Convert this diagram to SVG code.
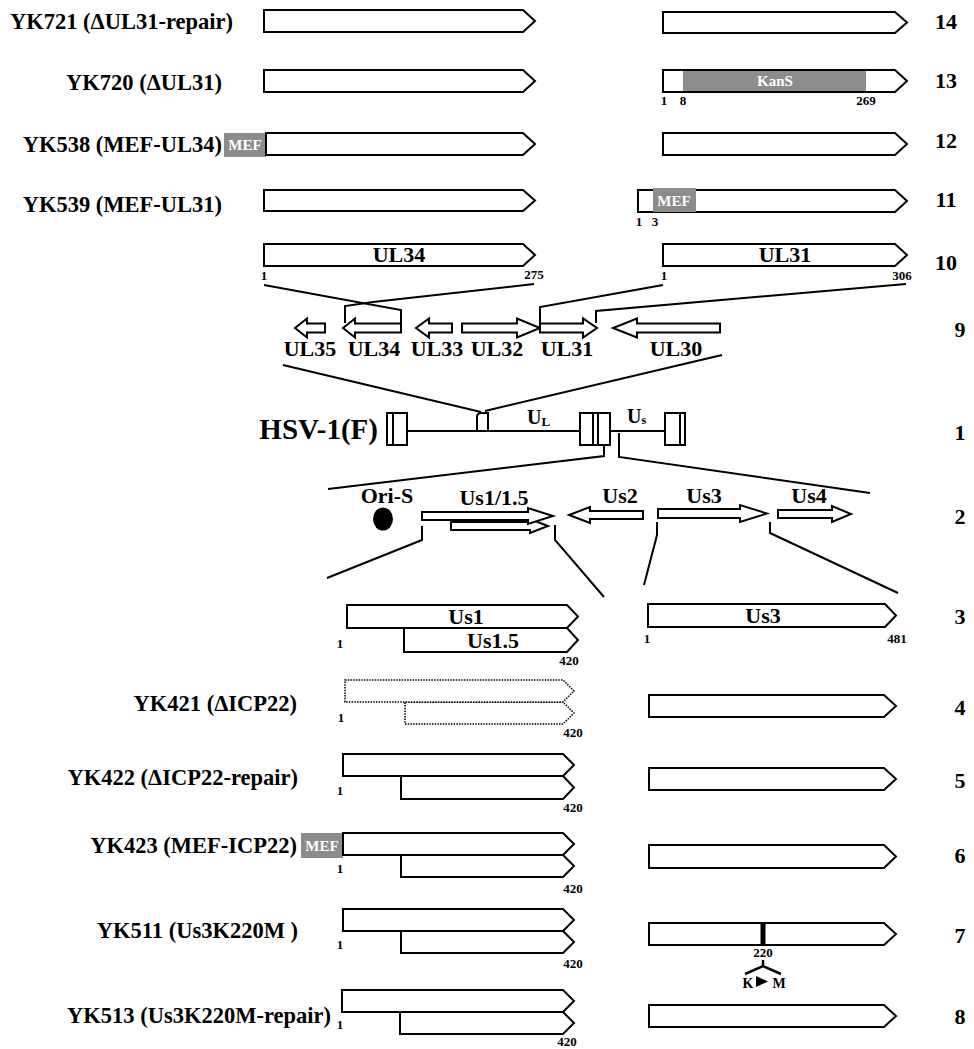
<svg xmlns="http://www.w3.org/2000/svg" width="974" height="1049" viewBox="0 0 974 1049">
<style>
text{font-family:"Liberation Serif","Times New Roman",serif;font-weight:bold;fill:#000}
.lbl{font-size:22.5px;text-anchor:end}
.rn{font-size:22px;text-anchor:middle}
.g{font-size:22px;text-anchor:middle}
.n{font-size:13px;text-anchor:middle}
.w{fill:#fff;font-size:15px;text-anchor:middle}
.box{fill:#fff;stroke:#000;stroke-width:2;stroke-linejoin:miter}
.dot{fill:#fff;stroke:#000;stroke-width:1.5;stroke-dasharray:1.5 1.2}
.ln{fill:none;stroke:#000;stroke-width:2}
.gr{fill:#8c8c8c}
</style>
<rect width="974" height="1049" fill="#fff"/>

<g id="connectors">
<polyline class="ln" points="264,285 401,310 401,323"/>
<polyline class="ln" points="534,284 373,302 345,306 345,323"/>
<polyline class="ln" points="663,285 540,307 540,323"/>
<polyline class="ln" points="906,284 596,311 596,323"/>
<line class="ln" x1="283" y1="365" x2="481" y2="412"/>
<line class="ln" x1="722" y1="355" x2="485" y2="411"/>
<polyline class="ln" points="604,445 604,456 328,489"/>
<polyline class="ln" points="619,433 619,457 870,493"/>
<polyline class="ln" points="422,526 422,540 327,578"/>
<polyline class="ln" points="555,525 555,540 604,597"/>
<polyline class="ln" points="657,522 657,535 644,585"/>
<polyline class="ln" points="770,522 770,533 898,593"/>
</g>

<g id="row14">
<text class="lbl" x="233" y="29">YK721 (ΔUL31-repair)</text>
<path class="box" d="M264,10H523L535,21L523,32H264Z"/>
<path class="box" d="M663,12H895L907,22.5L895,33H663Z"/>
<text class="rn" x="946" y="29">14</text>
</g>

<g id="row13">
<text class="lbl" x="222" y="90">YK720 (ΔUL31)</text>
<path class="box" d="M264,70H523L535,81L523,92H264Z"/>
<path class="box" d="M663,70H895L907,81L895,92H663Z"/>
<rect class="gr" x="683" y="71" width="183" height="20"/>
<text class="w" x="775" y="86">KanS</text>
<text class="n" x="664" y="105">1</text>
<text class="n" x="683" y="105">8</text>
<text class="n" x="866" y="105">269</text>
<text class="rn" x="946" y="88">13</text>
</g>

<g id="row12">
<text class="lbl" x="222" y="152">YK538 (MEF-UL34)</text>
<rect class="gr" x="224" y="133" width="42" height="24"/>
<text class="w" x="245" y="150">MEF</text>
<path class="box" d="M266,133H523L535,144L523,155H266Z"/>
<path class="box" d="M663,133H895L907,144L895,155H663Z"/>
<text class="rn" x="946" y="148">12</text>
</g>

<g id="row11">
<text class="lbl" x="222" y="212">YK539 (MEF-UL31)</text>
<path class="box" d="M264,190H523L535,200.5L523,211H264Z"/>
<path class="box" d="M638,190H895L907,201L895,212H638Z"/>
<rect class="gr" x="653" y="188" width="43" height="24"/>
<text class="w" x="674" y="206">MEF</text>
<text class="n" x="639" y="226">1</text>
<text class="n" x="655" y="226">3</text>
<text class="rn" x="946" y="207">11</text>
</g>

<g id="row10">
<path class="box" d="M264,244H523L535,255L523,266H264Z"/>
<text class="g" x="399" y="262">UL34</text>
<text class="n" x="264" y="280">1</text>
<text class="n" x="534" y="279">275</text>
<path class="box" d="M663,244H895L907,255L895,266H663Z"/>
<text class="g" x="785" y="262">UL31</text>
<text class="n" x="664" y="280">1</text>
<text class="n" x="902" y="280">306</text>
<text class="rn" x="946" y="270">10</text>
</g>

<g id="row9">
<path class="box" d="M325,323.5H307V318.5L295,328L307,337.5V332.5H325Z"/>
<path class="box" d="M401,323.5H355V318.5L343,328L355,337.5V332.5H401Z"/>
<path class="box" d="M452,323.5H429V318.5L416,328L429,337.5V332.5H452Z"/>
<path class="box" d="M462,323.5H517V318.5L540,328L517,337.5V332.5H462Z"/>
<path class="box" d="M540,323.5H583V318.5L597,328L583,337.5V332.5H540Z"/>
<path class="box" d="M720,323.5H637V318.5L613,328L637,337.5V332.5H720Z"/>
<text class="g" x="310" y="356">UL35</text>
<text class="g" x="374" y="356">UL34</text>
<text class="g" x="437" y="356">UL33</text>
<text class="g" x="497" y="356">UL32</text>
<text class="g" x="567" y="356">UL31</text>
<text class="g" x="676" y="356">UL30</text>
<text class="rn" x="960" y="337">9</text>
</g>

<g id="row1">
<text x="378" y="439" style="font-size:29px;text-anchor:end">HSV-1(F)</text>
<line class="ln" x1="407" y1="431" x2="580" y2="431"/>
<line class="ln" x1="610" y1="431" x2="665" y2="431"/>
<rect class="box" x="387" y="413" width="20" height="32"/>
<line class="ln" x1="393" y1="413" x2="393" y2="445"/>
<path class="ln" d="M477,431V417Q477,413 481,413H488V431"/>
<rect class="box" x="580" y="413" width="30" height="32"/>
<line class="ln" x1="593" y1="413" x2="593" y2="445"/>
<line class="ln" x1="598" y1="413" x2="598" y2="445"/>
<rect class="box" x="665" y="413" width="20" height="32"/>
<line class="ln" x1="680" y1="413" x2="680" y2="445"/>
<text x="527" y="424" style="font-size:20px">U<tspan style="font-size:13px" dy="2">L</tspan></text>
<text x="627" y="423" style="font-size:20px">U<tspan style="font-size:12px" dy="1">s</tspan></text>
<text class="rn" x="960" y="440">1</text>
</g>

<g id="row2">
<text class="g" x="387" y="503">Ori-S</text>
<ellipse cx="383" cy="519" rx="10" ry="11.5" fill="#000"/>
<text class="g" x="494" y="505">Us1/1.5</text>
<path class="box" d="M451,522H530V519L548,526L530,533V530H451Z"/>
<path class="box" d="M422,512H528V508L553,516L528,524V520H422Z"/>
<text class="g" x="620" y="503">Us2</text>
<path class="box" d="M643,511H590V507L569,515L590,523V519H643Z"/>
<text class="g" x="704" y="503">Us3</text>
<path class="box" d="M658,509H740V505L767,513.5L740,522V518H658Z"/>
<text class="g" x="809" y="503">Us4</text>
<path class="box" d="M778,510H832V506L851,514L832,522V518H778Z"/>
<text class="rn" x="960" y="524">2</text>
</g>

<g id="row3">
<path class="box" d="M404,628H567L578,640L567,652H404Z"/>
<path class="box" d="M347,605H567L578,616.5L567,628H347Z"/>
<text class="g" x="466" y="624">Us1</text>
<text class="g" x="493" y="648">Us1.5</text>
<text class="n" x="340" y="648">1</text>
<text class="n" x="569" y="665">420</text>
<path class="box" d="M648,604H885L896,615.5L885,627H648Z"/>
<text class="g" x="763" y="623">Us3</text>
<text class="n" x="647" y="643">1</text>
<text class="n" x="897" y="643">481</text>
<text class="rn" x="960" y="624">3</text>
</g>

<g id="row4">
<text class="lbl" x="297" y="711">YK421 (ΔICP22)</text>
<path class="dot" d="M405,702H563L574,713L563,724H405Z"/>
<path class="dot" d="M345,680H563L574,691L563,702H345Z"/>
<text class="n" x="341" y="722">1</text>
<text class="n" x="573" y="737">420</text>
<path class="box" d="M649,695H884L896,706L884,717H649Z"/>
<text class="rn" x="960" y="715">4</text>
</g>

<g id="row5">
<text class="lbl" x="298" y="785">YK422 (ΔICP22-repair)</text>
<path class="box" d="M401,776H563L574,787.5L563,799H401Z"/>
<path class="box" d="M343,754H563L574,765L563,776H343Z"/>
<text class="n" x="340" y="795">1</text>
<text class="n" x="573" y="812">420</text>
<path class="box" d="M649,768H884L896,779L884,790H649Z"/>
<text class="rn" x="960" y="788">5</text>
</g>

<g id="row6">
<text class="lbl" x="297" y="853">YK423 (MEF-ICP22)</text>
<rect class="gr" x="301" y="833" width="42" height="25"/>
<text class="w" x="322" y="851">MEF</text>
<path class="box" d="M401,855H563L574,866L563,877H401Z"/>
<path class="box" d="M343,833H563L574,844L563,855H343Z"/>
<text class="n" x="340" y="873">1</text>
<text class="n" x="573" y="893">420</text>
<path class="box" d="M649,845H884L896,856.5L884,868H649Z"/>
<text class="rn" x="960" y="863">6</text>
</g>

<g id="row7">
<text class="lbl" x="298" y="938">YK511 (Us3K220M )</text>
<path class="box" d="M401,931H563L574,942L563,953H401Z"/>
<path class="box" d="M343,909H563L574,920L563,931H343Z"/>
<text class="n" x="340" y="949">1</text>
<text class="n" x="573" y="968">420</text>
<path class="box" d="M649,923H884L896,934L884,945H649Z"/>
<rect x="760.5" y="923" width="5" height="22" fill="#000"/>
<text class="n" x="763" y="957">220</text>
<path d="M763,960V966M745,974L763,966L781,974" fill="none" stroke="#000" stroke-width="2.5"/>
<text x="748" y="988" style="font-size:14px;text-anchor:middle">K</text>
<polygon points="756,976 768,981.5 756,987" fill="#000"/>
<text x="779" y="988" style="font-size:14px;text-anchor:middle">M</text>
<text class="rn" x="960" y="943">7</text>
</g>

<g id="row8">
<text class="lbl" x="331" y="1023">YK513 (Us3K220M-repair)</text>
<path class="box" d="M400,1012H563L574,1023L563,1034H400Z"/>
<path class="box" d="M342,990H563L574,1001L563,1012H342Z"/>
<text class="n" x="340" y="1029">1</text>
<text class="n" x="567" y="1046">420</text>
<path class="box" d="M649,1005H884L896,1016L884,1027H649Z"/>
<text class="rn" x="960" y="1024">8</text>
</g>
</svg>
